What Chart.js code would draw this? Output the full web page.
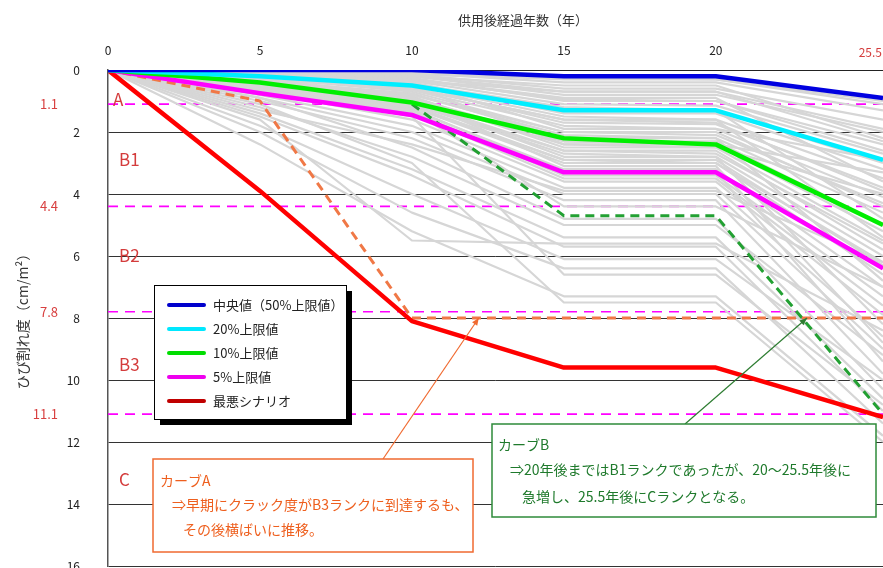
<!DOCTYPE html>
<html lang="ja">
<head>
<meta charset="utf-8">
<title>ひび割れ度の推移</title>
<script src="https://cdn.jsdelivr.net/npm/chart.js@4.4.1/dist/chart.umd.min.js"></script>
<style>
  html, body { margin: 0; padding: 0; background: #fff; }
  #wrap { width: 883px; height: 568px; }
</style>
</head>
<body>
<div id="wrap"><canvas id="crackChart" width="883" height="568"></canvas></div>
<script>
const FONT = '"Noto Sans CJK JP", "Noto Sans", sans-serif';

// x: years after start of service, y: crack degree (cm/m2)
const years = [0, 5, 10, 15, 20, 25.5];
const yTicks = [0, 2, 4, 6, 8, 10, 12, 14, 16];
const rankBounds = [1.1, 4.4, 7.8, 11.1];
const rankNames = ['A', 'B1', 'B2', 'B3', 'C'];
const rankNameY = [0.95, 2.9, 6.0, 9.5, 13.2];

const seriesLabels = ['中央値（50%上限値）', '20%上限値', '10%上限値', '5%上限値', '最悪シナリオ'];
const median50 = [0, 0, 0, 0.2, 0.2, 0.9];
const upper20 = [0, 0.2, 0.5, 1.3, 1.3, 2.9];
const upper10 = [0, 0.4, 1.05, 2.2, 2.4, 5.0];
const upper5 = [0, 0.75, 1.45, 3.3, 3.3, 6.4];
const worst = [0, 3.9, 8.1, 9.6, 9.6, 11.2];

const curveA = [0, 1.0, 8.0, 8.0, 8.0, 8.0];
const curveB = [null, null, 1.1, 4.7, 4.7, 11.1];

// individual simulation runs (grey)
const grayRuns = [
  [0, 0.05, 0.1, 0.4, 0.4, 1.3],
  [0, 0.05, 0.15, 0.6, 0.6, 1.6],
  [0, 0.1, 0.2, 0.8, 0.8, 2.0],
  [0, 0.1, 0.25, 1.0, 1.0, 2.4],
  [0, 0.15, 0.35, 1.1, 1.15, 2.7],
  [0, 0.15, 0.4, 1.4, 1.4, 3.2],
  [0, 0.2, 0.5, 1.5, 1.6, 3.5],
  [0, 0.2, 0.55, 1.7, 1.75, 3.8],
  [0, 0.25, 0.65, 1.8, 1.9, 4.1],
  [0, 0.25, 0.7, 2.0, 2.0, 4.4],
  [0, 0.3, 0.8, 2.1, 2.2, 4.6],
  [0, 0.3, 0.9, 2.3, 2.4, 5.2],
  [0, 0.35, 0.95, 2.4, 2.5, 5.5],
  [0, 0.4, 1.0, 2.6, 2.6, 5.8],
  [0, 0.45, 1.1, 2.7, 2.8, 6.0],
  [0, 0.5, 1.15, 2.9, 2.9, 6.3],
  [0, 0.55, 1.2, 3.0, 3.0, 6.6],
  [0, 0.6, 1.3, 3.2, 3.2, 7.0],
  [0, 0.65, 1.35, 3.4, 3.4, 7.3],
  [0, 0.7, 1.4, 3.5, 3.5, 7.6],
  [0, 0.1, 0.3, 0.9, 0.9, 3.6],
  [0, 0.2, 0.45, 1.2, 1.3, 4.8],
  [0, 0.3, 0.6, 1.6, 1.6, 5.4],
  [0, 0.15, 0.4, 1.9, 1.9, 2.9],
  [0, 0.35, 0.75, 2.2, 2.2, 6.8],
  [0, 0.4, 0.85, 2.5, 2.5, 4.0],
  [0, 0.5, 1.0, 2.8, 2.8, 8.2],
  [0, 0.1, 0.2, 0.5, 0.5, 2.2],
  [0, 0.45, 0.9, 3.1, 3.1, 8.8],
  [0, 0.6, 1.25, 3.3, 3.3, 9.4],
  [0, 0.05, 0.1, 0.3, 0.3, 1.0],
  [0, 0.2, 0.5, 2.4, 2.4, 3.3],
  [0, 0.05, 0.2, 0.7, 0.7, 1.9],
  [0, 0.1, 0.3, 0.95, 1.0, 2.6],
  [0, 0.2, 0.5, 1.3, 1.3, 3.0],
  [0, 0.25, 0.6, 1.6, 1.7, 3.9],
  [0, 0.35, 0.8, 2.0, 2.1, 4.3],
  [0, 0.4, 0.95, 2.3, 2.3, 5.0],
  [0, 0.5, 1.1, 2.6, 2.7, 5.6],
  [0, 0.6, 1.2, 2.9, 3.0, 6.2],
  [0, 0.05, 0.15, 0.25, 0.3, 1.1],
  [0, 0.15, 0.35, 0.7, 0.7, 2.3],
  [0, 0.7, 1.6, 3.6, 3.6, 7.9],
  [0, 0.8, 1.8, 3.8, 3.8, 8.6],
  [0, 0.9, 2.0, 4.0, 4.0, 9.0],
  [0, 1.0, 2.2, 4.2, 4.2, 9.8],
  [0, 0.9, 2.5, 4.8, 4.8, 10.3],
  [0, 1.2, 2.8, 5.0, 5.0, 9.2],
  [0, 1.4, 3.2, 5.4, 5.4, 10.6],
  [0, 1.5, 3.4, 5.7, 5.7, 11.0],
  [0, 1.8, 4.0, 6.1, 6.1, 10.0],
  [0, 2.0, 4.6, 6.4, 6.4, 11.4],
  [0, 2.4, 5.2, 7.3, 7.3, 11.8],
  [0, 1.1, 3.0, 7.5, 7.5, 12.0],
  [0, 0.6, 1.5, 6.6, 6.6, 10.8],
  [0, 1.6, 5.5, 5.6, 5.6, 8.4],
  [0, 0.5, 1.3, 4.4, 4.4, 7.0],
  [0, 1.3, 2.4, 3.9, 3.9, 6.2]
];

const noteA = ['カーブA', '⇒早期にクラック度がB3ランクに到達するも、', 'その後横ばいに推移。'];
const noteB = ['カーブB', '⇒20年後まではB1ランクであったが、20～25.5年後に', '急増し、25.5年後にCランクとなる。'];
const noteATip = [12.2, 8.0];
const noteBTip = [23.0, 8.0];

const mainColors = ['#0000e0', '#00eeff', '#00ee00', '#ff00ff', '#ff0000'];
const legendColors = ['#0000cc', '#00e8ff', '#00dd00', '#ee00ee', '#c00000'];

function toPts(vals) {
  return years.map((yr, i) => ({ x: yr, y: vals[i] }));
}

const datasets = [];
[median50, upper20, upper10, upper5, worst].forEach((vals, i) => {
  datasets.push({ label: seriesLabels[i], data: toPts(vals), borderColor: mainColors[i], borderWidth: 4.5, order: 0 });
});
datasets.push({ label: 'カーブA', data: toPts(curveA), borderColor: '#f07846', borderDash: [9, 6], borderWidth: 3, order: 1 });
datasets.push({ label: 'カーブB', data: toPts(curveB), borderColor: '#22a032', borderDash: [9, 6], borderWidth: 3, order: 1 });
grayRuns.forEach(vals => {
  datasets.push({ data: toPts(vals), borderColor: '#d6d6d6', borderWidth: 2.2, order: 2 });
});
rankBounds.forEach(v => {
  datasets.push({
    data: [{ x: years[0], y: v }, { x: years[years.length - 1], y: v }],
    borderColor: '#ff00ff', borderDash: [10, 7], borderWidth: 1.6, order: 3
  });
});

function arrow(ctx, x0, y0, x1, y1, color) {
  ctx.strokeStyle = color;
  ctx.fillStyle = color;
  ctx.lineWidth = 1.2;
  ctx.beginPath();
  ctx.moveTo(x0, y0);
  ctx.lineTo(x1, y1);
  ctx.stroke();
  const a = Math.atan2(y1 - y0, x1 - x0);
  ctx.beginPath();
  ctx.moveTo(x1, y1);
  ctx.lineTo(x1 - 8 * Math.cos(a - 0.4), y1 - 8 * Math.sin(a - 0.4));
  ctx.lineTo(x1 - 8 * Math.cos(a + 0.4), y1 - 8 * Math.sin(a + 0.4));
  ctx.closePath();
  ctx.fill();
}

function noteBox(ctx, lines, bx, by, bw, bh, border, textColor, rows) {
  ctx.fillStyle = '#fff';
  ctx.fillRect(bx, by, bw, bh);
  ctx.strokeStyle = border;
  ctx.lineWidth = 1.5;
  ctx.strokeRect(bx, by, bw, bh);
  ctx.fillStyle = textColor;
  ctx.font = '14px ' + FONT;
  ctx.textAlign = 'left';
  ctx.textBaseline = 'middle';
  lines.forEach((t, i) => ctx.fillText(t, bx + rows[i][0], by + rows[i][1]));
}

const overlay = {
  id: 'overlay',
  afterDraw(chart) {
    const { ctx, chartArea: area, scales: { x, y } } = chart;
    ctx.save();

    // rank names inside the plot
    ctx.font = '17px ' + FONT;
    ctx.fillStyle = '#d43c3c';
    ctx.textAlign = 'left';
    ctx.textBaseline = 'middle';
    rankNames.forEach((n, i) => {
      ctx.fillText(n, area.left + (i === 0 ? 5 : 11), y.getPixelForValue(rankNameY[i]));
    });

    // last x tick (red, kept inside the canvas)
    ctx.font = '12px ' + FONT;
    ctx.textAlign = 'right';
    ctx.textBaseline = 'bottom';
    ctx.fillText(String(years[years.length - 1]), area.right - 1, area.top - 12);

    // x axis title
    ctx.fillStyle = '#333';
    ctx.font = '13px ' + FONT;
    ctx.textAlign = 'center';
    ctx.textBaseline = 'middle';
    ctx.fillText('供用後経過年数（年）', 523, 20);

    // legend box with shadow
    const lx = 154, ly = 285, lw = 192, lh = 134;
    ctx.fillStyle = '#000';
    ctx.fillRect(lx + 6, ly + 6, lw, lh);
    ctx.fillStyle = '#fff';
    ctx.fillRect(lx, ly, lw, lh);
    ctx.strokeStyle = '#000';
    ctx.lineWidth = 1;
    ctx.strokeRect(lx + 0.5, ly + 0.5, lw, lh);
    ctx.font = '13px ' + FONT;
    ctx.textAlign = 'left';
    ctx.textBaseline = 'middle';
    seriesLabels.forEach((t, i) => {
      const ry = ly + 20 + i * 24;
      ctx.strokeStyle = legendColors[i];
      ctx.lineWidth = 4;
      ctx.lineCap = 'round';
      ctx.beginPath();
      ctx.moveTo(lx + 15, ry);
      ctx.lineTo(lx + 50, ry);
      ctx.stroke();
      ctx.fillStyle = '#222';
      ctx.fillText(t, lx + 59, ry);
    });
    ctx.lineCap = 'butt';

    // annotations
    arrow(ctx, 383, 459, x.getPixelForValue(noteATip[0]), y.getPixelForValue(noteATip[1]), '#f06a30');
    arrow(ctx, 685, 424, x.getPixelForValue(noteBTip[0]), y.getPixelForValue(noteBTip[1]), '#2e7d32');
    noteBox(ctx, noteA, 153, 459, 320, 93, '#f06a30', '#ee5f1e', [[7, 22], [19, 46], [30, 71]]);
    noteBox(ctx, noteB, 492, 424, 384, 93, '#2e8b3a', '#1f7a2c', [[6, 21], [18, 46], [30, 73]]);

    ctx.restore();
  }
};

new Chart(document.getElementById('crackChart'), {
  type: 'line',
  data: { datasets: datasets },
  options: {
    responsive: false,
    animation: false,
    layout: { padding: { left: 0, right: 0, top: 0, bottom: 2 } },
    elements: {
      point: { radius: 0 },
      line: { tension: 0, fill: false, borderJoinStyle: 'round' }
    },
    plugins: { legend: { display: false }, tooltip: { enabled: false } },
    scales: {
      x: {
        type: 'linear', position: 'top', min: 0, max: 25.5,
        afterBuildTicks: s => { s.ticks = years.map(v => ({ value: v })); },
        afterFit: s => { s.height = 70; s.paddingLeft = 0; s.paddingRight = 0; },
        grid: { display: false, drawTicks: false },
        border: { display: true, color: '#222', width: 1 },
        ticks: {
          padding: 12, color: '#222', autoSkip: false, maxRotation: 0,
          font: { family: FONT, size: 12 },
          callback: v => (v === years[years.length - 1] ? '' : String(v))
        }
      },
      y: {
        type: 'linear', position: 'left', reverse: true, min: 0, max: 16, weight: 0,
        afterBuildTicks: s => { s.ticks = yTicks.map(v => ({ value: v })); },
        afterFit: s => { s.width = 46; s.paddingTop = 0; s.paddingBottom = 0; },
        grid: { color: '#333', lineWidth: 1, drawTicks: false },
        border: { color: '#555', width: 1.5 },
        ticks: { padding: 28, color: '#222', font: { family: FONT, size: 12 } }
      },
      yr: {
        type: 'linear', position: 'left', reverse: true, min: 0, max: 16, weight: 1,
        afterBuildTicks: s => { s.ticks = rankBounds.map(v => ({ value: v })); },
        afterFit: s => { s.width = 62; s.paddingTop = 0; s.paddingBottom = 0; },
        grid: { display: false, drawTicks: false },
        border: { display: false },
        ticks: { padding: 4, color: '#d84040', font: { family: FONT, size: 13 }, callback: v => v.toFixed(1) },
        title: {
          display: true, text: 'ひび割れ度（cm/m²）', color: '#333',
          font: { family: FONT, size: 14 }, padding: { top: 14, bottom: 0 }
        }
      }
    }
  },
  plugins: [overlay]
});
</script>
</body>
</html>
